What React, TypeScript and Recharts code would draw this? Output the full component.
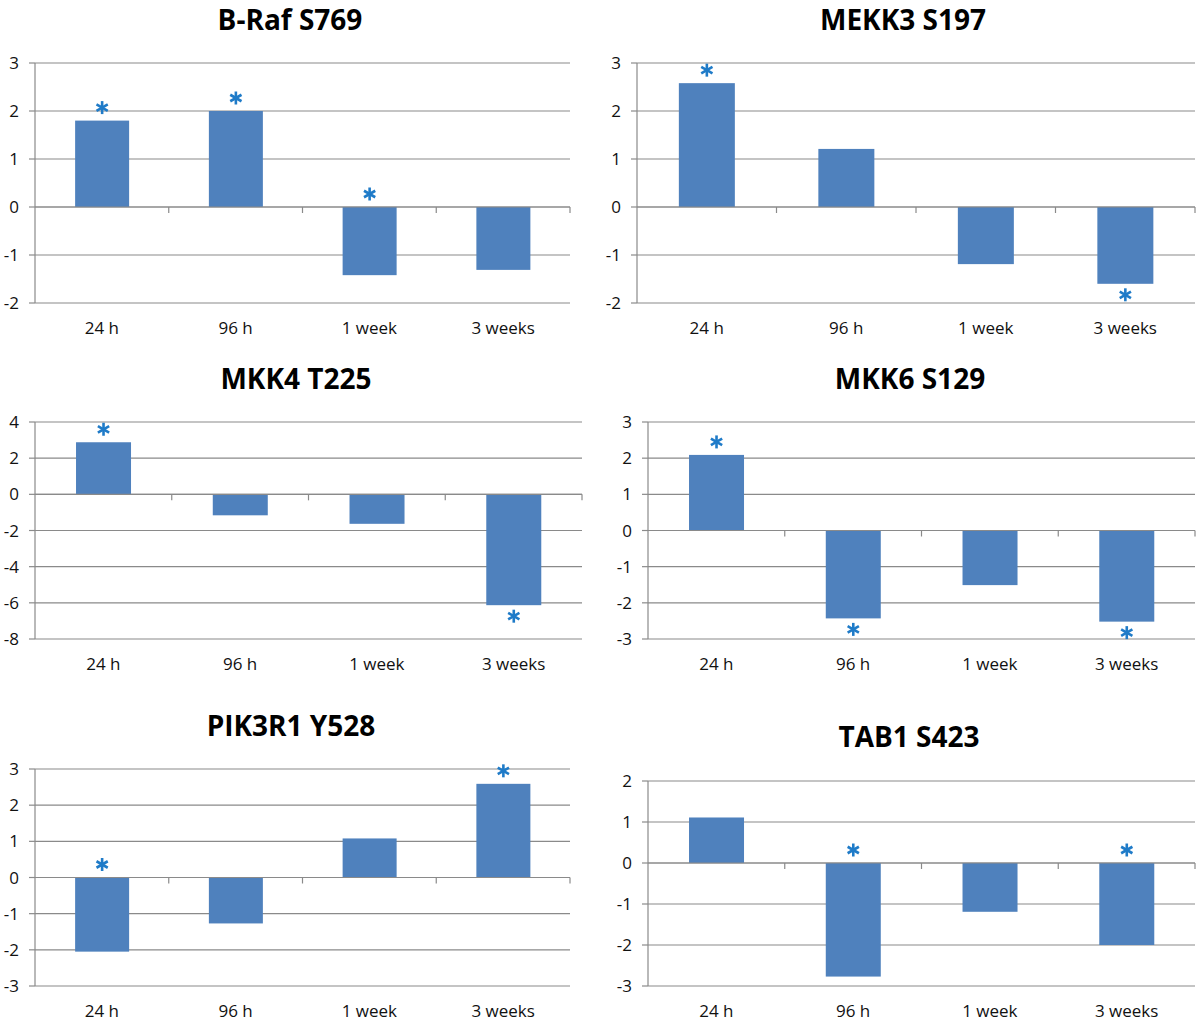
import React from 'react';
import { BarChart, Bar, XAxis, YAxis, CartesianGrid, ReferenceLine } from 'recharts';

const categories = ['24 h', '96 h', '1 week', '3 weeks'];

const brafValues = [1.8, 2.0, -1.42, -1.31];
const brafStars = ['above', 'above', 'above', ''];
const brafTicks = [-2, -1, 0, 1, 2, 3];

const mekk3Values = [2.58, 1.21, -1.19, -1.6];
const mekk3Stars = ['above', '', '', 'below'];
const mekk3Ticks = [-2, -1, 0, 1, 2, 3];

const mkk4Values = [2.88, -1.16, -1.63, -6.13];
const mkk4Stars = ['above', '', '', 'below'];
const mkk4Ticks = [-8, -6, -4, -2, 0, 2, 4];

const mkk6Values = [2.09, -2.43, -1.51, -2.52];
const mkk6Stars = ['above', 'below', '', 'below'];
const mkk6Ticks = [-3, -2, -1, 0, 1, 2, 3];

const pik3r1Values = [-2.05, -1.27, 1.08, 2.59];
const pik3r1Stars = ['above', '', '', 'above'];
const pik3r1Ticks = [-3, -2, -1, 0, 1, 2, 3];

const tab1Values = [1.11, -2.77, -1.19, -2.0];
const tab1Stars = ['', 'above', '', 'above'];
const tab1Ticks = [-3, -2, -1, 0, 1, 2];

const FONT = "'Open Sans', 'DejaVu Sans', sans-serif";
const BAR_COLOR = '#4f81bd';
const STAR_COLOR = '#1f7bc8';
const GRID_COLOR = '#8a8a8a';

const Asterisk = ({ cx, cy }: { cx: number; cy: number }) => {
  const r = 6.5;
  const angles = [90, 30, 150];
  return (
    <g>
      {angles.map((a) => {
        const rad = (a * Math.PI) / 180;
        const dx = Math.cos(rad) * r;
        const dy = Math.sin(rad) * r;
        return (
          <line
            key={a}
            x1={cx - dx}
            y1={cy - dy}
            x2={cx + dx}
            y2={cy + dy}
            stroke={STAR_COLOR}
            strokeWidth={2.6}
          />
        );
      })}
    </g>
  );
};

const BarWithStar = (props: any) => {
  const { x, y, width, height, payload } = props;
  const top = Math.min(y, y + height);
  const h = Math.abs(height);
  const star = payload ? payload.star : '';
  let cy: number | null = null;
  if (star === 'above') cy = top - 13;
  if (star === 'below') cy = top + h + 11;
  return (
    <g>
      <rect x={x} y={top} width={width} height={h} fill={BAR_COLOR} />
      {cy !== null && <Asterisk cx={x + width / 2} cy={cy} />}
    </g>
  );
};

const ZeroAxis = (props: any) => {
  const { x1, y1, x2, y2 } = props;
  const n = categories.length;
  const step = (x2 - x1) / n;
  return (
    <g>
      <line x1={x1} y1={y1} x2={x2} y2={y2} stroke={GRID_COLOR} strokeWidth={1.2} />
      {categories.map((c, i) => (
        <line
          key={c}
          x1={x1 + step * (i + 1)}
          y1={y1}
          x2={x1 + step * (i + 1)}
          y2={y1 + 6}
          stroke={GRID_COLOR}
          strokeWidth={1.2}
        />
      ))}
    </g>
  );
};

type PanelProps = {
  title: string;
  values: number[];
  stars: string[];
  ticks: number[];
  plotLeft: number;
  plotRight: number;
  plotTop: number;
  plotBottom: number;
  titleX: number;
  titleY: number;
};

const Y_AXIS_W = 35;
const TOP_PAD = 20;

const Panel = (p: PanelProps) => {
  const data = categories.map((c, i) => ({ name: c, value: p.values[i], star: p.stars[i] }));
  const left = p.plotLeft - Y_AXIS_W;
  const top = p.plotTop - TOP_PAD;
  const width = p.plotRight + 10 - left;
  const height = p.plotBottom + 45 - top;
  const tickStyle = { fontFamily: FONT, fontSize: 17, fill: '#111111' };
  return (
    <>
      <div
        style={{
          position: 'absolute',
          left: p.titleX - 200,
          top: p.titleY - 17,
          width: 400,
          height: 34,
          lineHeight: '34px',
          textAlign: 'center',
          fontFamily: FONT,
          fontWeight: 700,
          fontSize: 28,
          color: '#000',
          whiteSpace: 'nowrap',
        }}
      >
        {p.title}
      </div>
      <div style={{ position: 'absolute', left, top, width, height }}>
        <BarChart
          width={width}
          height={height}
          data={data}
          margin={{ top: TOP_PAD, right: 10, bottom: 0, left: 0 }}
          barCategoryGap="30%"
          style={{ overflow: 'visible' }}
        >
          <CartesianGrid vertical={false} stroke={GRID_COLOR} strokeWidth={1.2} />
          <XAxis
            dataKey="name"
            axisLine={false}
            tickLine={false}
            tickSize={0}
            tickMargin={19}
            height={45}
            interval={0}
            tick={tickStyle}
          />
          <YAxis
            width={Y_AXIS_W}
            domain={[p.ticks[0], p.ticks[p.ticks.length - 1]]}
            ticks={p.ticks}
            interval={0}
            tickSize={6}
            tickMargin={10}
            axisLine={{ stroke: GRID_COLOR, strokeWidth: 1.2 }}
            tickLine={{ stroke: GRID_COLOR, strokeWidth: 1.2 }}
            tick={tickStyle}
          />
          <Bar dataKey="value" fill={BAR_COLOR} isAnimationActive={false} shape={BarWithStar} />
          <ReferenceLine y={0} shape={ZeroAxis} />
        </BarChart>
      </div>
    </>
  );
};

export default function App() {
  return (
    <div
      style={{
        position: 'absolute',
        left: 0,
        top: 0,
        width: 1200,
        height: 1023,
        background: '#ffffff',
        overflow: 'hidden',
      }}
    >
      <Panel title="B-Raf S769" values={brafValues} stars={brafStars} ticks={brafTicks}
        plotLeft={35} plotRight={570} plotTop={63} plotBottom={303} titleX={290} titleY={19} />
      <Panel title="MEKK3 S197" values={mekk3Values} stars={mekk3Stars} ticks={mekk3Ticks}
        plotLeft={637} plotRight={1195} plotTop={63} plotBottom={303} titleX={903} titleY={19} />
      <Panel title="MKK4 T225" values={mkk4Values} stars={mkk4Stars} ticks={mkk4Ticks}
        plotLeft={35} plotRight={582} plotTop={422} plotBottom={639} titleX={296} titleY={378} />
      <Panel title="MKK6 S129" values={mkk6Values} stars={mkk6Stars} ticks={mkk6Ticks}
        plotLeft={648} plotRight={1195} plotTop={422} plotBottom={639} titleX={910} titleY={378} />
      <Panel title="PIK3R1 Y528" values={pik3r1Values} stars={pik3r1Stars} ticks={pik3r1Ticks}
        plotLeft={35} plotRight={570} plotTop={769} plotBottom={986} titleX={291} titleY={725} />
      <Panel title="TAB1 S423" values={tab1Values} stars={tab1Stars} ticks={tab1Ticks}
        plotLeft={648} plotRight={1195} plotTop={781} plotBottom={986} titleX={909} titleY={736} />
    </div>
  );
}
